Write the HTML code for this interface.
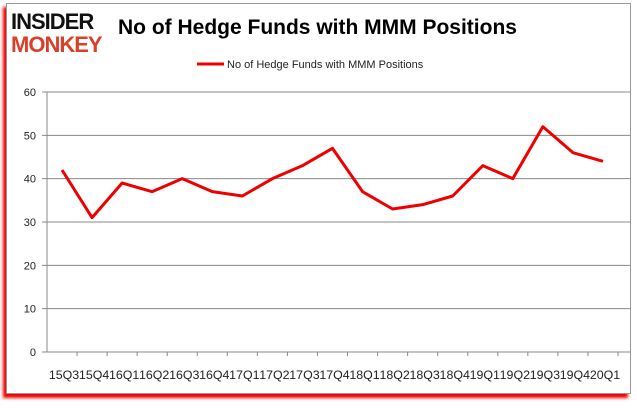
<!DOCTYPE html>
<html><head><meta charset="utf-8"><style>
body{margin:0;width:637px;height:408px;background:#fff;overflow:hidden;font-family:"Liberation Sans",sans-serif}
#frame{position:absolute;left:6px;top:3px;width:623px;height:389px;border:1px solid #999;background:#fff;box-shadow:-3px 4px 3px #e00}
</style></head><body>
<div id="frame"></div>
<svg width="637" height="408" style="position:absolute;left:0;top:0" id="svg">
<g>
<text x="11" y="29" font-size="22" font-weight="900" fill="#111" font-family="Liberation Sans" letter-spacing="-1">INSIDER</text>
<text x="11" y="52" font-size="22" font-weight="900" fill="#d9402a" font-family="Liberation Sans" letter-spacing="-1">MONKEY</text>
</g>
<text x="118" y="34" font-size="21" font-weight="bold" fill="#000">No of Hedge Funds with MMM Positions</text>
<line x1="197" y1="64" x2="224" y2="64" stroke="#e00" stroke-width="3"/>
<text x="227" y="68" font-size="11" fill="#222">No of Hedge Funds with MMM Positions</text>
<g id="grid"></g><g id="axes"></g>
</svg>
<script>
const categories=["15Q3","15Q4","16Q1","16Q2","16Q3","16Q4","17Q1","17Q2","17Q3","17Q4","18Q1","18Q2","18Q3","18Q4","19Q1","19Q2","19Q3","19Q4","20Q1"];
const values=[42,31,39,37,40,37,36,40,43,47,37,33,34,36,43,40,52,46,44];
const yTicks=[0,10,20,30,40,50,60];
const ns="http://www.w3.org/2000/svg";
const L=47,R=618,T=92,B=352;
const bw=(R-L)/categories.length;
const xs=i=>L+bw*(i+0.5);
const ys=v=>B-(v/60)*(B-T);
const g=document.getElementById('grid'),a=document.getElementById('axes');
function mk(t,at,p){const e=document.createElementNS(ns,t);for(const k in at)e.setAttribute(k,at[k]);p.appendChild(e);return e;}
yTicks.forEach(v=>{
 const l=mk('line',{x1:L-5,x2:630,y1:ys(v),y2:ys(v),stroke:'#888','stroke-width':1},g);
 
 
 const t=mk('text',{x:36,y:ys(v)+4,'font-size':11,'text-anchor':'end',fill:'#222'},a);
 t.textContent=v;
 
 
});
const yax=mk('line',{x1:L,x2:L,y1:T,y2:B,stroke:'#888'},a);


categories.forEach((c,i)=>{
 const tk=mk('line',{x1:L+bw*(i+1),x2:L+bw*(i+1),y1:B,y2:B+4,stroke:'#888'},a);
 
 
 const t=mk('text',{x:xs(i)+2,y:379,'font-size':12.4,'text-anchor':'middle',fill:'#222'},a);
 t.textContent=c;
 
 
});
const pl=mk('polyline',{points:values.map((v,i)=>xs(i)+','+ys(v)).join(' '),fill:'none',stroke:'#e00','stroke-width':3,'stroke-linejoin':'round'},a);


</script>
</body></html>
